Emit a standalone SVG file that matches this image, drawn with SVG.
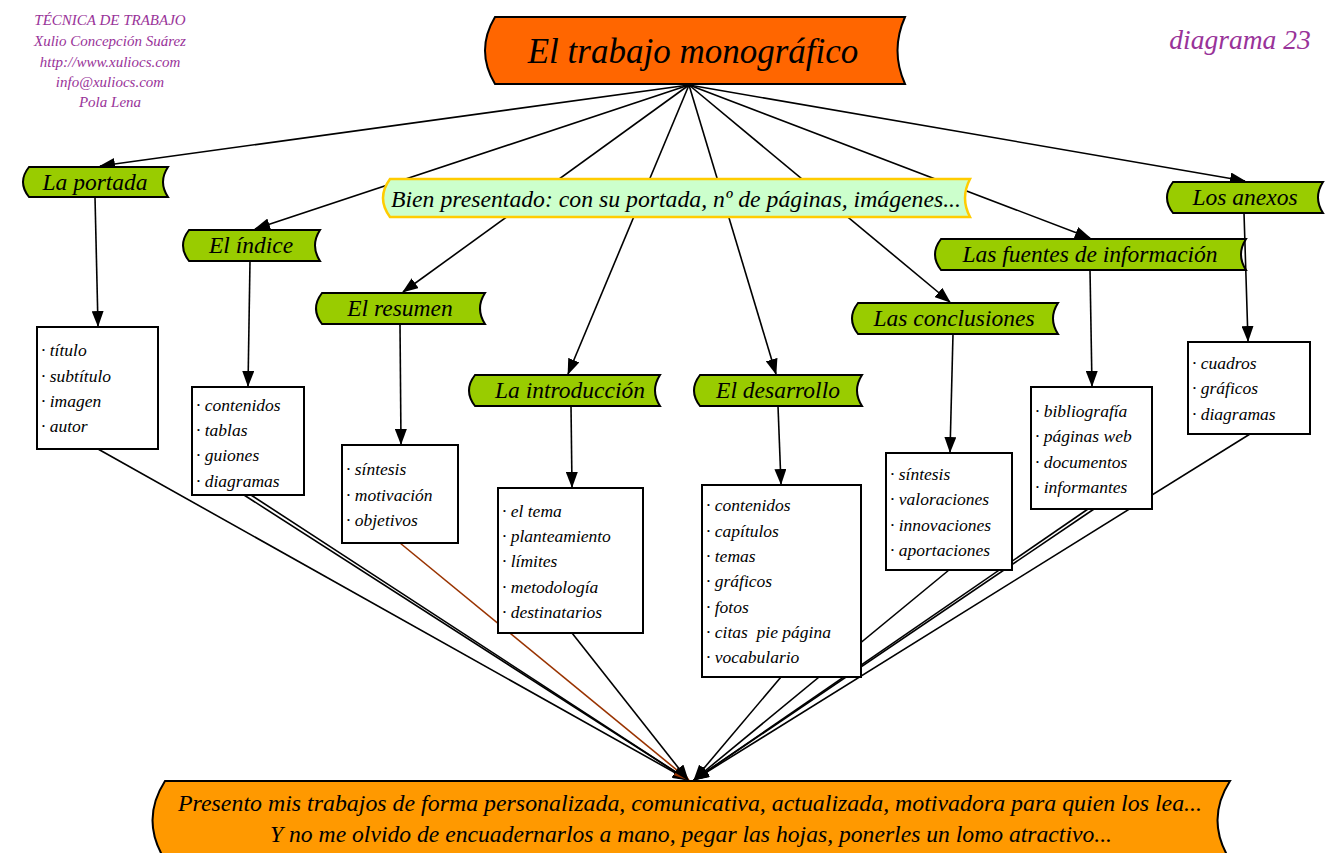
<svg xmlns="http://www.w3.org/2000/svg" width="1331" height="853" viewBox="0 0 1331 853">
<defs>
<style>
.t{font-family:"Liberation Serif",serif;font-style:italic;fill:#000}
.hdr{font-family:"Liberation Serif",serif;font-style:italic;fill:#993399;font-size:15px;text-anchor:middle}
.ban{fill:#99cc00;stroke:#000;stroke-width:2}
.bl{font-size:23.5px;text-anchor:middle}
.box{fill:#fff;stroke:#000;stroke-width:2}
.it{font-size:17.5px;white-space:pre}
.c{stroke:#000;stroke-width:1.6;fill:none;marker-end:url(#ah)}
.cb{stroke:#993300;stroke-width:1.6;fill:none;marker-end:url(#ahb)}
</style>
<marker id="ah" markerUnits="userSpaceOnUse" markerWidth="16" markerHeight="12" viewBox="0 0 16 12" refX="15" refY="6" orient="auto"><path d="M0,0 L16,6 L0,12 z" fill="#000"/></marker>
<marker id="ahb" markerUnits="userSpaceOnUse" markerWidth="16" markerHeight="12" viewBox="0 0 16 12" refX="15" refY="6" orient="auto"><path d="M0,0 L16,6 L0,12 z" fill="#993300"/></marker>
</defs>
<rect width="1331" height="853" fill="#fff"/>

<g id="header">
<text class="hdr" x="110" y="25">TÉCNICA DE TRABAJO</text>
<text class="hdr" x="110" y="46">Xulio Concepción Suárez</text>
<text class="hdr" x="110" y="67">http://www.xuliocs.com</text>
<text class="hdr" x="110" y="87">info@xuliocs.com</text>
<text class="hdr" x="110" y="107">Pola Lena</text>
<text x="1240" y="49" style="font-family:'Liberation Serif',serif;font-style:italic;fill:#993399;font-size:27.5px;text-anchor:middle">diagrama 23</text>
</g>

<g id="connectors">
<line class="c" x1="689" y1="85" x2="100" y2="166"/>
<line class="c" x1="689" y1="85" x2="255" y2="229"/>
<line class="c" x1="689" y1="85" x2="403" y2="292"/>
<line class="c" x1="689" y1="85" x2="568" y2="374"/>
<line class="c" x1="689" y1="85" x2="776" y2="374"/>
<line class="c" x1="689" y1="85" x2="950" y2="302"/>
<line class="c" x1="689" y1="85" x2="1090" y2="238"/>
<line class="c" x1="689" y1="85" x2="1245" y2="181"/>

<line class="c" x1="95" y1="197" x2="98" y2="326"/>
<line class="c" x1="250" y1="261" x2="248" y2="386"/>
<line class="c" x1="400" y1="324" x2="401" y2="444"/>
<line class="c" x1="571" y1="406" x2="572" y2="487"/>
<line class="c" x1="778" y1="406" x2="781" y2="484"/>
<line class="c" x1="953" y1="334" x2="950" y2="452"/>
<line class="c" x1="1090" y1="270" x2="1092" y2="386"/>
<line class="c" x1="1244" y1="213" x2="1248" y2="341"/>

<line class="c" x1="98" y1="449" x2="688" y2="780"/>
<line class="c" x1="244" y1="495" x2="688" y2="780"/>
<line class="c" x1="251" y1="495" x2="688" y2="780"/>
<line class="cb" x1="400" y1="543" x2="689" y2="780"/>
<line class="c" x1="572" y1="633" x2="688" y2="780"/>
<line class="c" x1="781" y1="677" x2="694" y2="780"/>
<line class="c" x1="949" y1="570" x2="694" y2="780"/>
<line class="c" x1="1088" y1="509" x2="694" y2="780"/>
<line class="c" x1="1094" y1="509" x2="694" y2="780"/>
<line class="c" x1="1250" y1="434" x2="694" y2="780"/>
</g>

<g id="title">
<path d="M495,17 H905 Q890,50.5 905,84 H495 Q475,50.5 495,17 Z" fill="#ff6600" stroke="#000" stroke-width="2"/>
<text class="t" x="693" y="63" style="font-size:35px;text-anchor:middle">El trabajo monográfico</text>
</g>

<g id="bien">
<path d="M390,179 H970 Q960,198 970,217 H390 Q376,198 390,179 Z" fill="#ccffcc" stroke="#ffcc00" stroke-width="2.5"/>
<text class="t bl" x="676" y="207" textLength="570" lengthAdjust="spacingAndGlyphs">Bien presentado: con su portada, nº de páginas, imágenes...</text>
</g>

<g id="portada">
<path class="ban" d="M29,167 H168 Q158,182 168,197 H29 Q17,182 29,167 Z"/>
<text class="t bl" x="95" y="190">La portada</text>
</g>
<g id="indice">
<path class="ban" d="M189,230 H320 Q310,245.5 320,261 H189 Q177,245.5 189,230 Z"/>
<text class="t bl" x="251" y="253">El índice</text>
</g>
<g id="resumen">
<path class="ban" d="M322,293 H485 Q475,308.5 485,324 H322 Q310,308.5 322,293 Z"/>
<text class="t bl" x="400" y="316">El resumen</text>
</g>
<g id="introduccion">
<path class="ban" d="M475,375 H660 Q650,390.5 660,406 H475 Q463,390.5 475,375 Z"/>
<text class="t bl" x="570" y="398">La introducción</text>
</g>
<g id="desarrollo">
<path class="ban" d="M700,375 H862 Q852,390.5 862,406 H700 Q688,390.5 700,375 Z"/>
<text class="t bl" x="778" y="398">El desarrollo</text>
</g>
<g id="conclusiones">
<path class="ban" d="M858,303 H1058 Q1048,318.5 1058,334 H858 Q846,318.5 858,303 Z"/>
<text class="t bl" x="954" y="326">Las conclusiones</text>
</g>
<g id="fuentes">
<path class="ban" d="M941,239 H1246 Q1236,254.5 1246,270 H941 Q929,254.5 941,239 Z"/>
<text class="t bl" x="1090" y="262">Las fuentes de información</text>
</g>
<g id="anexos">
<path class="ban" d="M1173,182 H1323 Q1313,197.5 1323,213 H1173 Q1161,197.5 1173,182 Z"/>
<text class="t bl" x="1245" y="205">Los anexos</text>
</g>

<g id="box-portada">
<rect class="box" x="37" y="327" width="121" height="122"/>
<text class="t it" x="41" y="356">· título</text>
<text class="t it" x="41" y="382">· subtítulo</text>
<text class="t it" x="41" y="407">· imagen</text>
<text class="t it" x="41" y="432">· autor</text>
</g>
<g id="box-indice">
<rect class="box" x="192" y="387" width="112" height="108"/>
<text class="t it" x="196" y="411">· contenidos</text>
<text class="t it" x="196" y="436">· tablas</text>
<text class="t it" x="196" y="461">· guiones</text>
<text class="t it" x="196" y="487">· diagramas</text>
</g>
<g id="box-resumen">
<rect class="box" x="342" y="445" width="116" height="98"/>
<text class="t it" x="346" y="475">· síntesis</text>
<text class="t it" x="346" y="501">· motivación</text>
<text class="t it" x="346" y="526">· objetivos</text>
</g>
<g id="box-introduccion">
<rect class="box" x="498" y="488" width="145" height="145"/>
<text class="t it" x="502" y="517">· el tema</text>
<text class="t it" x="502" y="542">· planteamiento</text>
<text class="t it" x="502" y="567">· límites</text>
<text class="t it" x="502" y="593">· metodología</text>
<text class="t it" x="502" y="618">· destinatarios</text>
</g>
<g id="box-desarrollo">
<rect class="box" x="702" y="485" width="159" height="192"/>
<text class="t it" x="706" y="511">· contenidos</text>
<text class="t it" x="706" y="537">· capítulos</text>
<text class="t it" x="706" y="562">· temas</text>
<text class="t it" x="706" y="587">· gráficos</text>
<text class="t it" x="706" y="613">· fotos</text>
<text class="t it" x="706" y="638">· citas  pie página</text>
<text class="t it" x="706" y="663">· vocabulario</text>
</g>
<g id="box-conclusiones">
<rect class="box" x="886" y="453" width="126" height="117"/>
<text class="t it" x="890" y="480">· síntesis</text>
<text class="t it" x="890" y="505">· valoraciones</text>
<text class="t it" x="890" y="531">· innovaciones</text>
<text class="t it" x="890" y="556">· aportaciones</text>
</g>
<g id="box-fuentes">
<rect class="box" x="1031" y="387" width="121" height="122"/>
<text class="t it" x="1035" y="417">· bibliografía</text>
<text class="t it" x="1035" y="442">· páginas web</text>
<text class="t it" x="1035" y="468">· documentos</text>
<text class="t it" x="1035" y="493">· informantes</text>
</g>
<g id="box-anexos">
<rect class="box" x="1188" y="342" width="122" height="92"/>
<text class="t it" x="1192" y="369">· cuadros</text>
<text class="t it" x="1192" y="394">· gráficos</text>
<text class="t it" x="1192" y="420">· diagramas</text>
</g>

<g id="conclusion-final">
<path d="M165,781 H1230 Q1205,820 1230,860 H165 Q140,820 165,781 Z" fill="#ff9900" stroke="#000" stroke-width="2"/>
<text class="t bl" x="690" y="811" textLength="1024" lengthAdjust="spacingAndGlyphs">Presento mis trabajos de forma personalizada, comunicativa, actualizada, motivadora para quien los lea...</text>
<text class="t bl" x="691" y="842" textLength="842" lengthAdjust="spacingAndGlyphs">Y no me olvido de encuadernarlos a mano, pegar las hojas, ponerles un lomo atractivo...</text>
</g>
</svg>
